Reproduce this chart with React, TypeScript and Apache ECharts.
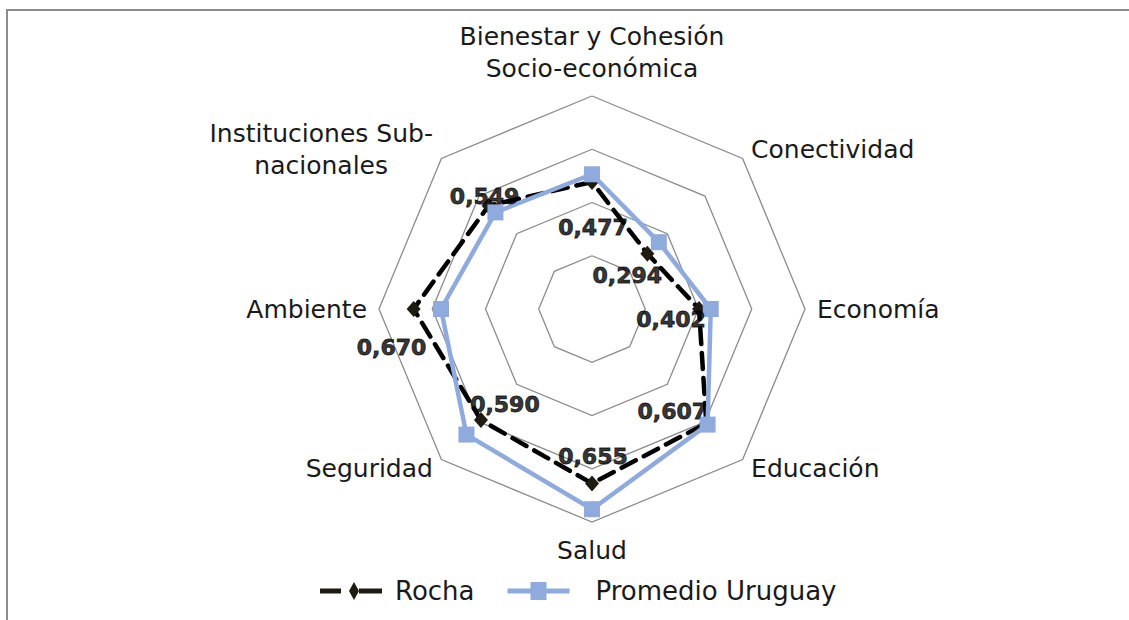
import React, { useEffect, useRef } from "react";
import * as echarts from "echarts";

const categories = [
  "Bienestar y Cohesión\nSocio-económica",
  "Conectividad",
  "Economía",
  "Educación",
  "Salud",
  "Seguridad",
  "Ambiente",
  "Instituciones Sub-\nnacionales",
];
const seriesNames = ["Rocha", "Promedio Uruguay"];
const rocha = [0.477, 0.294, 0.402, 0.607, 0.655, 0.59, 0.67, 0.549];
const promedio = [0.506, 0.355, 0.446, 0.614, 0.752, 0.667, 0.567, 0.513];
const axisMax = 0.8;
const splitCount = 4;
// label offsets (style), in px, relative to each Rocha vertex
const labelOffsets = [
  [1, 46],
  [-20, 22],
  [-28, 10],
  [-34, -12],
  [1, -27],
  [24, -16],
  [-22, 38],
  [-4, -9],
];

const FONT = "DejaVu Sans";
const BLUE = "#8FAADC";

export default function App() {
  const ref = useRef<HTMLDivElement>(null);
  useEffect(() => {
    document.body.style.margin = "0";
    if (!ref.current) return;
    const chart = echarts.init(ref.current, null, { renderer: "svg" });
    const n = categories.length;
    // ECharts radar runs counter-clockwise; reorder so the categories run clockwise
    const order = categories.map((_, i) => (n - i) % n);
    const reorder = (arr: any[]) => order.map((k) => arr[k]);
    const center = [592, 309];
    const radius = 213;
    const legendText = {
      fontFamily: FONT,
      fontSize: 26,
      color: "#1a1a1a",
    };
    const option: any = {
      animation: false,
      backgroundColor: "#ffffff",
      graphic: [
        {
          type: "rect",
          shape: { x: 7, y: 10, width: 1400, height: 900 },
          style: { fill: "none", stroke: "#8c8c8c", lineWidth: 2 },
          silent: true,
        },
      ],
      legend: {
        left: 315,
        top: 573,
        itemWidth: 62,
        itemHeight: 18,
        itemGap: 33,
        data: [
          {
            name: seriesNames[0],
            icon: "path://M0,6.5h21v5h-21z M29,9L34,0L39,9L34,18z M39,6.5h23v5h-23z",
            textStyle: { ...legendText, padding: [0, 0, 0, 8] },
          },
          {
            name: seriesNames[1],
            icon: "path://M0,6.5h62v5h-62z M23,0h16v18h-16z",
            textStyle: { ...legendText, padding: [0, 0, 0, 21] },
          },
        ],
        textStyle: legendText,
      },
      radar: {
        center,
        radius,
        startAngle: 90,
        shape: "polygon",
        splitNumber: splitCount,
        indicator: reorder(categories).map((c: string) => ({ name: c, min: 0, max: axisMax })),
        axisName: {
          color: "#1a1a1a",
          fontFamily: FONT,
          fontSize: 25,
          formatter: (name: string) =>
            name
              .split("\n")
              .map((l) => `{a|${l}}`)
              .join("\n"),
          rich: {
            a: {
              fontFamily: FONT,
              fontSize: 25,
              lineHeight: 32,
              color: "#1a1a1a",
              align: "center",
            },
          },
        },
        nameGap: 12,
        axisLine: { show: false },
        splitArea: { show: false },
        splitLine: { lineStyle: { color: "#8c8c8c", width: 1.3 } },
        axisTick: { show: false },
        axisLabel: { show: false },
      },
      polar: { center, radius },
      angleAxis: {
        type: "value",
        min: 0,
        max: 360,
        startAngle: 90,
        clockwise: true,
        show: false,
      },
      radiusAxis: { type: "value", min: 0, max: axisMax, show: false },
      series: [
        {
          type: "radar",
          name: seriesNames[0],
          symbol: "diamond",
          symbolSize: [14, 16],
          itemStyle: { color: "#1e1b10" },
          lineStyle: { color: "#000000", width: 4.5, type: [16, 9], cap: "round" },
          data: [{ value: reorder(rocha), name: seriesNames[0] }],
          z: 2,
        },
        {
          type: "radar",
          name: seriesNames[1],
          symbol: "rect",
          symbolSize: 16,
          itemStyle: { color: BLUE },
          lineStyle: { color: BLUE, width: 4.5 },
          data: [{ value: reorder(promedio), name: seriesNames[1] }],
          z: 3,
        },
        {
          type: "scatter",
          coordinateSystem: "polar",
          symbolSize: 0,
          silent: true,
          z: 5,
          itemStyle: { color: "#000000" },
          data: rocha.map((v, i) => ({
            value: [v, (i * 360) / n],
            label: { offset: labelOffsets[i] },
          })),
          label: {
            show: true,
            position: "inside",
            formatter: (p: any) => p.value[0].toFixed(3).replace(".", ","),
            fontFamily: FONT,
            fontWeight: "bold",
            fontSize: 22,
            color: "#000000",
            textBorderColor: "#000000",
            textBorderWidth: 0.8,
          },
        },
      ],
    };
    chart.setOption(option);
    return () => chart.dispose();
  }, []);
  return <div ref={ref} style={{ width: 1129, height: 620 }} />;
}
